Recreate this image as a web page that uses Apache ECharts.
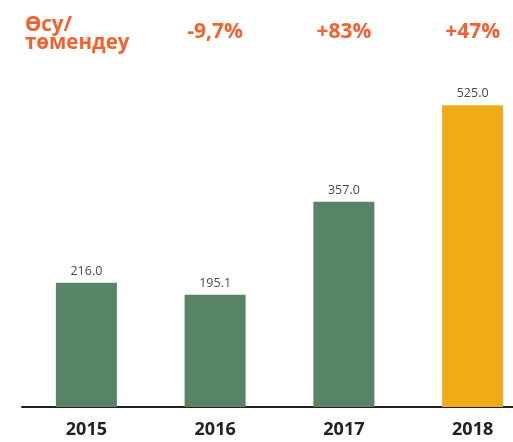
<!DOCTYPE html>
<html>
<head>
<meta charset="utf-8">
<style>html,body{margin:0;padding:0;background:#fff}#c{width:513px;height:442px}</style>
<script src="https://cdn.jsdelivr.net/npm/echarts@6/dist/echarts.min.js"></script>
</head>
<body>
<div id="c"></div>
<script>
const years = ['2015', '2016', '2017', '2018'];
const values = [216.0, 195.1, 357.0, 525.0];
const growth = ['', '-9,7%', '+83%', '+47%'];
const headerText = 'Өсу/\nтөмендеу';
const highlightYear = '2018';

const FONT = '"Open Sans", "DejaVu Sans", sans-serif';
const ORANGE = '#F2612E';
const GREEN = '#578465';
const YELLOW = '#F0AC17';

const chart = echarts.init(document.getElementById('c'), null, {renderer: 'canvas'});
chart.setOption({
  backgroundColor: '#fff',
  animation: false,
  grid: {left: 22, right: -24, top: 62, bottom: 35, outerBoundsMode: 'none', containLabel: false},
  graphic: [{
    type: 'text', left: 25, top: 15,
    style: {text: headerText, fill: ORANGE, font: 'bold 20.5px ' + FONT, lineHeight: 18}
  }],
  xAxis: [{
    type: 'category', data: years, position: 'bottom',
    axisLine: {show: true, lineStyle: {color: '#222', width: 2}},
    axisTick: {show: false},
    axisLabel: {color: '#222', fontSize: 18, fontWeight: 'bold', fontFamily: FONT, margin: 14}
  }, {
    type: 'category', data: growth, position: 'top',
    axisLine: {show: false}, axisTick: {show: false},
    axisLabel: {color: ORANGE, fontSize: 21, fontWeight: 'bold', fontFamily: FONT, margin: 19}
  }],
  yAxis: {type: 'value', min: 0, max: 600, show: false, splitLine: {show: false}},
  series: [{
    type: 'bar', barWidth: 61,
    data: values.map((v, i) => ({value: v, itemStyle: {color: years[i] === highlightYear ? YELLOW : GREEN}})),
    label: {show: true, position: 'top', distance: 5, color: '#4a4a4a', fontSize: 12.5, fontFamily: FONT,
      formatter: p => p.value.toFixed(1)}
  }]
});
</script>
</body>
</html>
